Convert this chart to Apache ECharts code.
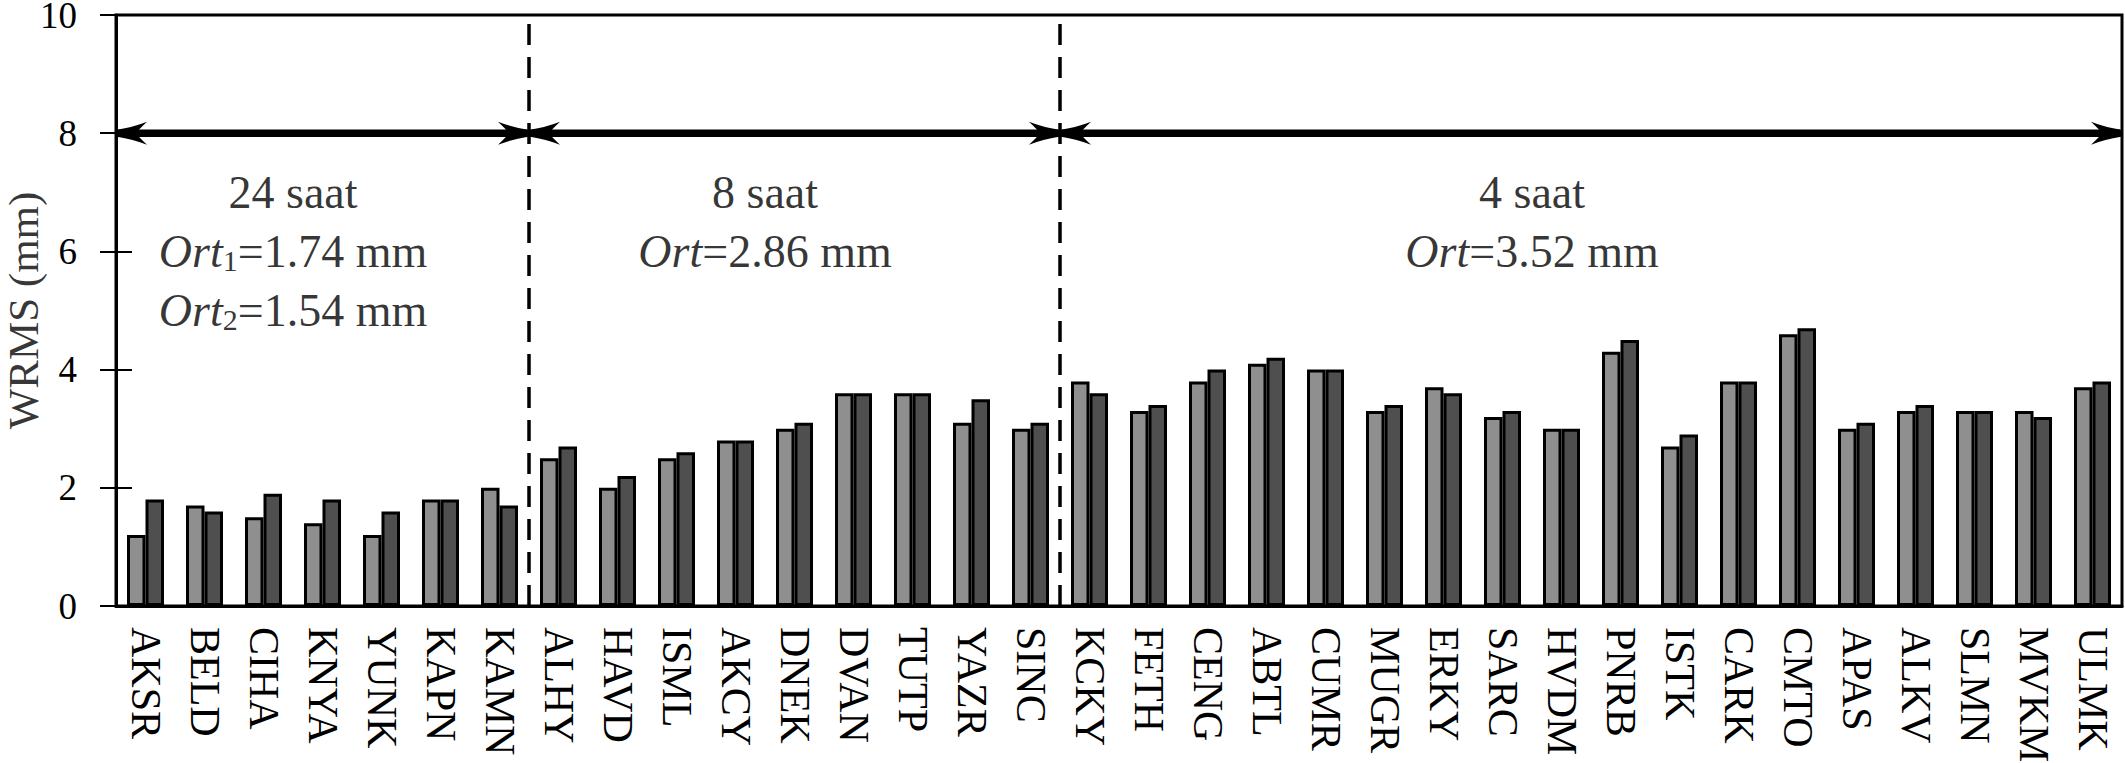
<!DOCTYPE html>
<html><head><meta charset="utf-8">
<script src="https://cdn.jsdelivr.net/npm/echarts@6/dist/echarts.min.js"></script>
<style>html,body{margin:0;padding:0;background:#fff}#c{width:2125px;height:763px}</style>
</head><body><div id="c"></div>
<script>
const stations = ['AKSR','BELD','CIHA','KNYA','YUNK','KAPN','KAMN','ALHY','HAVD','ISML','AKCY','DNEK','DVAN','TUTP','YAZR','SINC','KCKY','FETH','CENG','ABTL','CUMR','MUGR','ERKY','SARC','HVDM','PNRB','ISTK','CARK','CMTO','APAS','ALKV','SLMN','MVKM','ULMK'];
const wrms1 = [1.2,1.7,1.5,1.4,1.2,1.8,2.0, 2.5,2.0,2.5,2.8,3.0,3.6,3.6,3.1,3.0, 3.8,3.3,3.8,4.1,4.0,3.3,3.7,3.2,3.0,4.3,2.7,3.8,4.6,3.0,3.3,3.3,3.3,3.7];
const wrms2 = [1.8,1.6,1.9,1.8,1.6,1.8,1.7, 2.7,2.2,2.6,2.8,3.1,3.6,3.6,3.5,3.1, 3.6,3.4,4.0,4.2,4.0,3.4,3.6,3.3,3.0,4.5,2.9,3.8,4.7,3.1,3.4,3.3,3.2,3.8];
const yMin = 0, yMax = 10, yStep = 2;
const sectionBounds = [0, 7, 16, 34];
const arrowLevel = 8;
const dividers = [7, 16];
const notes = [
  [3, 7, '24 saat', false],
  [3, 6, '{it|Ort}{sub|1}{n|=1.74 mm}', true],
  [3, 5, '{it|Ort}{sub|2}{n|=1.54 mm}', true],
  [11, 7, '8 saat', false],
  [11, 6, '{it|Ort}{n|=2.86 mm}', true],
  [24, 7, '4 saat', false],
  [24, 6, '{it|Ort}{n|=3.52 mm}', true]
];
const yName = 'WRMS (mm)';
const yNameAt = [-1.56, 5];

const FONT = 'Liberation Serif';
const arrowSpans = [];
for (let i = 0; i < sectionBounds.length - 1; i++) arrowSpans.push([sectionBounds[i], sectionBounds[i + 1], arrowLevel]);

function richFor(fam) {
  return {
    n: {fontFamily: fam, fontSize: 46, lineHeight: 48, color: '#000'},
    it: {fontFamily: fam, fontSize: 46, lineHeight: 48, color: '#000', fontStyle: 'italic'},
    sub: {fontFamily: fam, fontSize: 30, lineHeight: 26, verticalAlign: 'bottom', color: '#000'}
  };
}
const textItems = notes.map(n => n[3]
  ? {value: [n[0], n[1]], label: {formatter: n[2], rich: richFor(FONT)}}
  : {value: [n[0], n[1]], label: {formatter: n[2], fontFamily: FONT, fontSize: 46}});
textItems.push({value: yNameAt, label: {formatter: yName, rotate: 90, fontFamily: FONT, fontSize: 43}});

const chart = echarts.init(document.getElementById('c'), null, {renderer: 'svg'});

function headPath(tx, y, dir) {
  const L = 30, H = 11.5, N = 19;
  const bx = tx - dir * L, nx = tx - dir * N;
  return 'M' + tx + ',' + (y - 3.5) +
    ' Q' + (tx - dir * 16) + ',' + (y - 6) + ' ' + bx + ',' + (y - H) +
    ' Q' + (tx - dir * 21) + ',' + (y - 3) + ' ' + nx + ',' + y +
    ' Q' + (tx - dir * 21) + ',' + (y + 3) + ' ' + bx + ',' + (y + H) +
    ' Q' + (tx - dir * 16) + ',' + (y + 6) + ' ' + tx + ',' + (y + 3.5) + ' Z';
}

chart.setOption({
  animation: false,
  backgroundColor: '#fff',
  textStyle: {fontFamily: FONT, color: '#000'},
  grid: {left: 116, right: 3, top: 15, bottom: 157, show: true, borderColor: '#000', borderWidth: 3, outerBoundsMode: 'none', containLabel: false},
  xAxis: [
    {type: 'category', data: stations, boundaryGap: true,
     axisLine: {show: true, lineStyle: {color: '#000', width: 3}},
     axisTick: {show: false},
     axisLabel: {interval: 0, rotate: -90, margin: 21, color: '#000', fontFamily: FONT, fontSize: 42},
     splitLine: {show: false}},
    {type: 'value', min: 0, max: stations.length, show: false}
  ],
  yAxis: [
    {type: 'value', min: yMin, max: yMax, interval: yStep,
     axisLine: {show: true, lineStyle: {color: '#000', width: 3}},
     axisTick: {show: true, inside: false, length: 16, lineStyle: {color: '#000', width: 2}},
     axisLabel: {margin: 39, color: '#000', fontFamily: FONT, fontSize: 37},
     splitLine: {show: false}},
    {type: 'value', min: yMin, max: yMax, interval: yStep, position: 'left',
     axisLine: {show: false},
     axisTick: {show: true, inside: true, length: 16, lineStyle: {color: '#000', width: 2}},
     axisLabel: {show: false}, splitLine: {show: false}}
  ],
  series: [
    {type: 'bar', xAxisIndex: 0, yAxisIndex: 0, data: wrms1, barWidth: 18.5, barGap: '0%', z: 2,
     itemStyle: {color: '#8f8f8f', borderColor: '#000', borderWidth: 3}},
    {type: 'bar', xAxisIndex: 0, yAxisIndex: 0, data: wrms2, barWidth: 18.5, barGap: '0%', z: 2,
     itemStyle: {color: '#4f4f4f', borderColor: '#000', borderWidth: 3}},
    {type: 'custom', xAxisIndex: 1, yAxisIndex: 0, z: 3, clip: false,
     data: dividers.map(d => [d]),
     renderItem: (params, api) => {
       const p0 = api.coord([api.value(0), yMin]);
       const p1 = api.coord([api.value(0), yMax]);
       return {type: 'line', shape: {x1: p0[0], y1: p0[1], x2: p1[0], y2: p1[1]},
               style: {stroke: '#000', lineWidth: 3.5, lineDash: [21, 12]}};
     }},
    {type: 'custom', xAxisIndex: 1, yAxisIndex: 0, z: 4, clip: false,
     data: arrowSpans,
     renderItem: (params, api) => {
       const a = api.coord([api.value(0), api.value(2)]);
       const b = api.coord([api.value(1), api.value(2)]);
       const y = a[1];
       return {type: 'group', children: [
         {type: 'line', shape: {x1: a[0] + 2, y1: y, x2: b[0] - 2, y2: y}, style: {stroke: '#000', lineWidth: 7.5}},
         {type: 'path', shape: {pathData: headPath(a[0] + 1, y, -1)}, style: {fill: '#000'}},
         {type: 'path', shape: {pathData: headPath(b[0] - 1, y, 1)}, style: {fill: '#000'}}
       ]};
     }},
    {type: 'scatter', xAxisIndex: 1, yAxisIndex: 0, z: 5, silent: true, clip: false,
     data: textItems,
     symbolSize: 2, itemStyle: {color: 'rgba(0,0,0,0)'},
     labelLayout: {hideOverlap: false},
     label: {show: true, position: 'inside', color: '#000', lineHeight: 48}}
  ]
});
</script></body></html>
